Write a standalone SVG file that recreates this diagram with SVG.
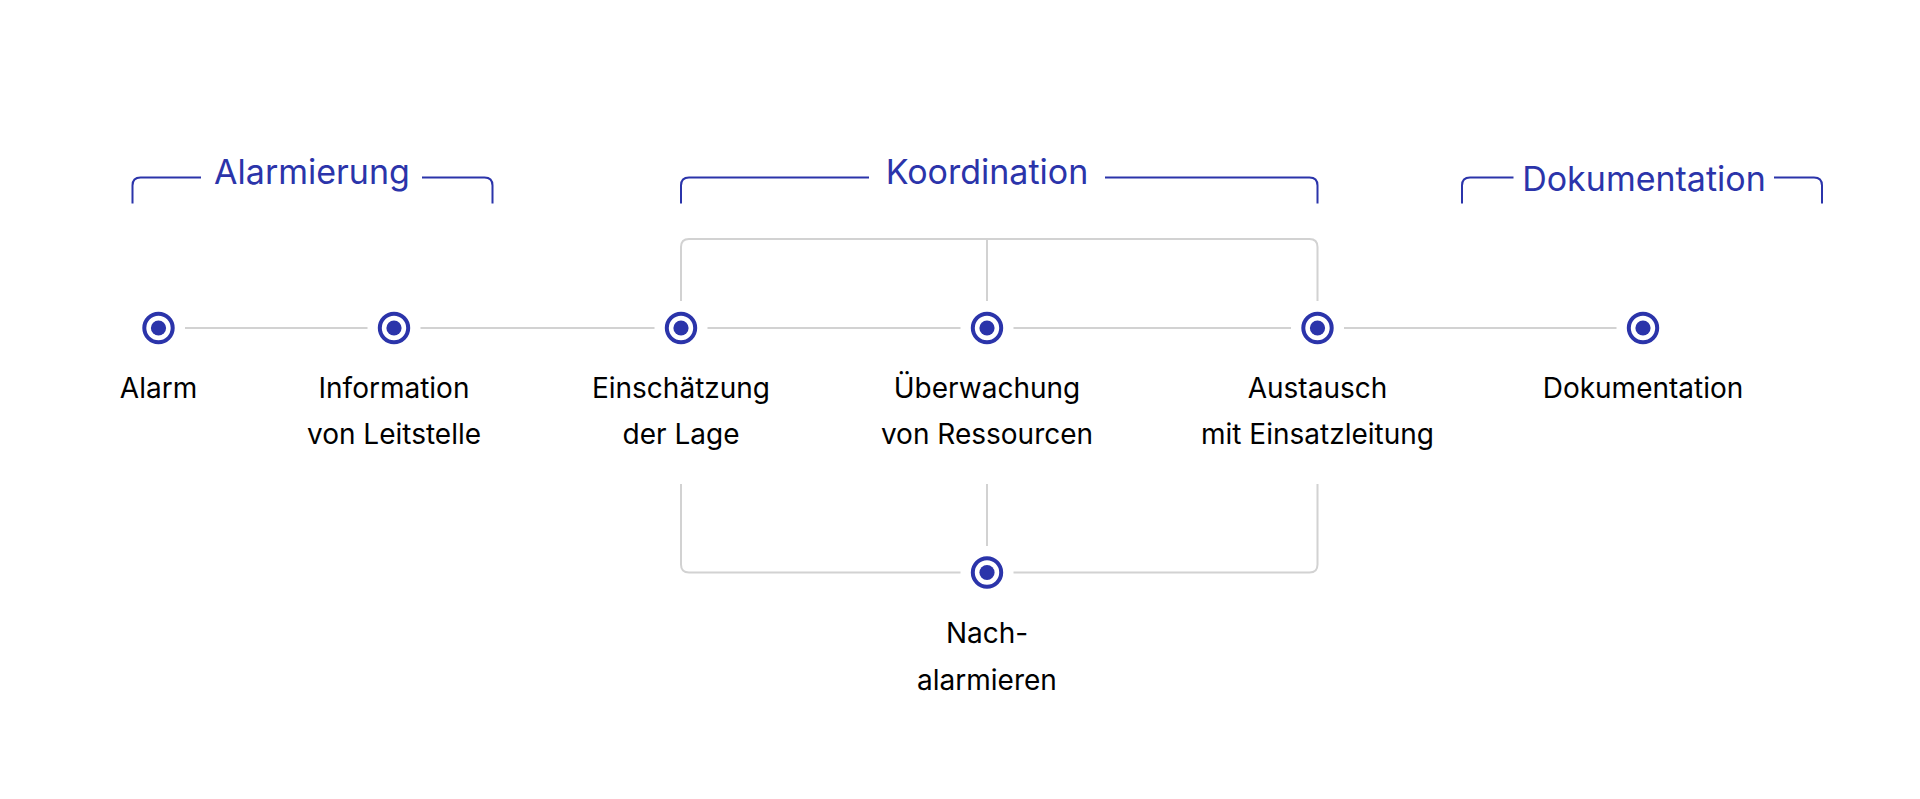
<svg xmlns="http://www.w3.org/2000/svg" width="1920" height="799" viewBox="0 0 1920 799">
<defs>
<style>
.bg{fill:#ffffff}
.conn{fill:none;stroke:#d2d2d2;stroke-width:2}
.brk{fill:none;stroke:#2b34aa;stroke-width:2}
.ring{fill:#ffffff;stroke:#2b34aa;stroke-width:4}
.dot{fill:#2b34aa}
.lbl{font-family:Inter,"Liberation Sans",sans-serif;font-size:28px;fill:#000000;text-anchor:middle}
.hdr{font-family:Inter,"Liberation Sans",sans-serif;font-size:34px;fill:#2b34aa;text-anchor:middle}
</style>
<g id="node-sym">
<circle class="ring" cx="0" cy="0" r="14.2"/>
<circle class="dot" cx="0" cy="0" r="7.6"/>
</g>
</defs>
<rect class="bg" x="0" y="0" width="1920" height="799"/>

<g id="phases">
<g id="phase-alarmierung">
<path class="brk" d="M132.5 203.5 V185.5 Q132.5 177.5 140.5 177.5 H201 M422 177.5 H484.5 Q492.5 177.5 492.5 185.5 V203.5"/>
<text class="hdr" x="312" y="184">Alarmierung</text>
</g>
<g id="phase-koordination">
<path class="brk" d="M681 203.5 V185.5 Q681 177.5 689 177.5 H869 M1105 177.5 H1309.5 Q1317.5 177.5 1317.5 185.5 V203.5"/>
<text class="hdr" x="987" y="184">Koordination</text>
</g>
<g id="phase-dokumentation">
<path class="brk" d="M1462 203.5 V185.5 Q1462 177.5 1470 177.5 H1513.5 M1774 177.5 H1814 Q1822 177.5 1822 185.5 V203.5"/>
<text class="hdr" x="1644" y="191">Dokumentation</text>
</g>
</g>

<g id="connectors">
<path class="conn" d="M185 328 H367.5 M420.5 328 H654.5 M707.5 328 H960.5 M1013.5 328 H1291 M1344 328 H1616.5"/>
<path class="conn" d="M681 301 V247 Q681 239 689 239 H1309.5 Q1317.5 239 1317.5 247 V301 M987 239 V301"/>
<path class="conn" d="M681 484 V564.5 Q681 572.5 689 572.5 H960.5 M1013.5 572.5 H1309.5 Q1317.5 572.5 1317.5 564.5 V484 M987 484 V546"/>
</g>

<g id="node-alarm">
<use href="#node-sym" x="158.5" y="328"/>
<text class="lbl" x="158.5" y="397.5">Alarm</text>
</g>
<g id="node-information">
<use href="#node-sym" x="394" y="328"/>
<text class="lbl" x="394" y="397.5">Information</text>
<text class="lbl" x="394" y="444">von Leitstelle</text>
</g>
<g id="node-einschaetzung">
<use href="#node-sym" x="681" y="328"/>
<text class="lbl" x="681" y="397.5">Einschätzung</text>
<text class="lbl" x="681" y="444">der Lage</text>
</g>
<g id="node-ueberwachung">
<use href="#node-sym" x="987" y="328"/>
<text class="lbl" x="987" y="397.5">Überwachung</text>
<text class="lbl" x="987" y="444">von Ressourcen</text>
</g>
<g id="node-austausch">
<use href="#node-sym" x="1317.5" y="328"/>
<text class="lbl" x="1317.5" y="397.5">Austausch</text>
<text class="lbl" x="1317.5" y="444">mit Einsatzleitung</text>
</g>
<g id="node-dokumentation">
<use href="#node-sym" x="1643" y="328"/>
<text class="lbl" x="1643" y="397.5">Dokumentation</text>
</g>
<g id="node-nachalarmieren">
<use href="#node-sym" x="987" y="572.5"/>
<text class="lbl" x="987" y="643">Nach-</text>
<text class="lbl" x="987" y="690">alarmieren</text>
</g>
</svg>
